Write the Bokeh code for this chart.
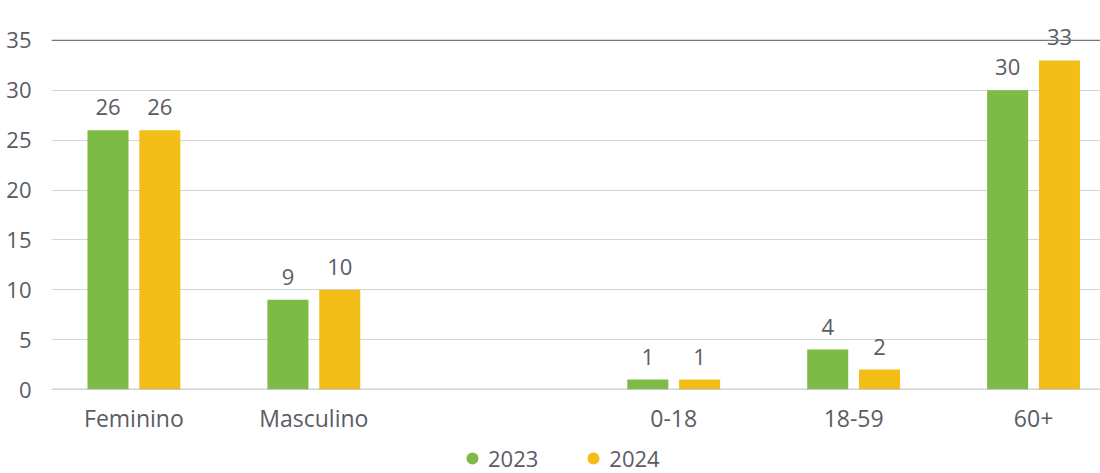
import numpy as np
from bokeh.plotting import figure
from bokeh.layouts import column
from bokeh.models import (ColumnDataSource, FixedTicker, Span, Legend, LegendItem, Range1d)
from bokeh.core.properties import value
from bokeh.embed import file_html
from bokeh.resources import INLINE

categories = ["Feminino", "Masculino", "", "0-18", "18-59", "60+"]
series_names = ["2023", "2024"]
values_2023 = [26, 9, None, 1, 4, 30]
values_2024 = [26, 10, None, 1, 2, 33]
y_ticks = [0, 5, 10, 15, 20, 25, 30, 35]

colors = ["#7dba46", "#f4be18"]
text_color = "#5b5b66"
font = "Open Sans"

x_idx = np.arange(len(categories), dtype=float)

p = figure(width=1100, height=440, output_backend="svg", toolbar_location=None,
           x_range=Range1d(-0.458, 5.372), y_range=Range1d(0, 37.5),
           min_border_left=51, min_border_right=0, min_border_top=15, min_border_bottom=51)
p.outline_line_color = None
p.background_fill_color = "white"
p.border_fill_color = "white"

offset = 0.144
bar_w = 0.228
for k, (vals, col) in enumerate(zip([values_2023, values_2024], colors)):
    xs, ys = [], []
    for i, v in enumerate(vals):
        if v is not None:
            xs.append(x_idx[i] + (offset if k else -offset))
            ys.append(v)
    src = ColumnDataSource(dict(x=xs, top=ys, label=[str(v) for v in ys]))
    p.vbar(x="x", top="top", width=bar_w, bottom=0, source=src, fill_color=col, line_color=None)
    p.text(x="x", y="top", text="label", source=src, text_align="center",
           text_baseline="alphabetic", y_offset=-23, text_font=value(font),
           text_font_size="22px", text_color=text_color)

# axes
p.xaxis.ticker = FixedTicker(ticks=[float(i) for i, c in enumerate(categories) if c])
p.xaxis.major_label_overrides = {float(i): c for i, c in enumerate(categories) if c}
p.xaxis.major_tick_line_color = None
p.xaxis.minor_tick_line_color = None
p.xaxis.axis_line_color = None
p.xaxis.major_label_text_font = font
p.xaxis.major_label_text_font_size = "23px"
p.xaxis.major_label_text_color = text_color
p.xaxis.major_label_standoff = 6

p.yaxis.ticker = FixedTicker(ticks=y_ticks)
p.yaxis.major_tick_line_color = None
p.yaxis.minor_tick_line_color = None
p.yaxis.axis_line_color = None
p.yaxis.major_label_text_font = font
p.yaxis.major_label_text_font_size = "22px"
p.yaxis.major_label_text_color = text_color
p.yaxis.major_label_standoff = 14

p.xgrid.grid_line_color = None
p.ygrid.ticker = FixedTicker(ticks=y_ticks[1:-1])
p.ygrid.grid_line_color = "#d4d4d4"
p.ygrid.grid_line_width = 1

p.add_layout(Span(location=0, dimension="width", line_color="#a8a8a8", line_width=1.5), "center")
p.add_layout(Span(location=35, dimension="width", line_color="#76767e", line_width=1.2), "center")

# legend strip below the chart
lg = figure(width=1100, height=33, output_backend="svg", toolbar_location=None,
            x_range=Range1d(0, 1), y_range=Range1d(0, 1),
            min_border=0, min_border_left=0, min_border_right=0, min_border_top=0, min_border_bottom=0)
lg.axis.visible = False
lg.grid.visible = False
lg.outline_line_color = None
renderers = []
for col in colors:
    r = lg.scatter(x=[-10.0], y=[-10.0], marker="circle", size=12, fill_color=col, line_color=None)
    renderers.append(r)

legend = Legend(items=[LegendItem(label=n, renderers=[r]) for n, r in zip(series_names, renderers)],
                orientation="horizontal", location=(406, 0),
                label_text_font=font, label_text_font_size="22px", label_text_color=text_color,
                border_line_color=None, background_fill_alpha=0,
                glyph_width=30, glyph_height=30, label_standoff=1, spacing=40,
                margin=0, padding=0)
lg.add_layout(legend, "center")

layout = column(p, lg, spacing=0)
open("out.html", "w").write(file_html(layout, INLINE))
